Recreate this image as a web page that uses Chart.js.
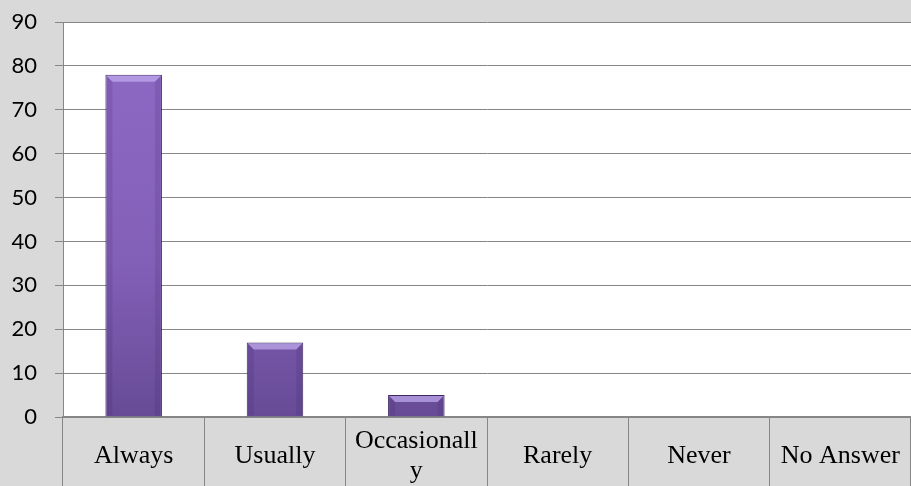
<!DOCTYPE html>
<html>
<head>
<meta charset="utf-8">
<script src="https://cdn.jsdelivr.net/npm/chart.js@4"></script>
<style>
  html, body { margin: 0; padding: 0; background: #d9d9d9; }
  #wrap { width: 911px; height: 486px; }
</style>
</head>
<body>
<div id="wrap"><canvas id="grafico"></canvas></div>
<script>
const categorias = ['Always', 'Usually', ['Occasionall', 'y'], 'Rarely', 'Never', 'No Answer'];
const valores = [78, 17, 5, 0, 0, 0];
const yMin = 0, yMax = 90, yPasso = 10;

// fundo cinza + area do grafico branca
const fundo = {
  id: 'fundo',
  beforeDraw(chart) {
    const { ctx, chartArea: a } = chart;
    ctx.save();
    ctx.fillStyle = '#d9d9d9';
    ctx.fillRect(0, 0, chart.width, chart.height);
    ctx.fillStyle = '#ffffff';
    ctx.fillRect(a.left, a.top, a.right - a.left, a.bottom - a.top);
    ctx.restore();
  }
};

// efeito chanfrado nas barras
const chanfro = {
  id: 'chanfro',
  afterDatasetsDraw(chart) {
    const { ctx } = chart;
    chart.getDatasetMeta(0).data.forEach(bar => {
      const h = bar.base - bar.y;
      if (h < 1) return;
      const l = bar.x - bar.width / 2, r = bar.x + bar.width / 2;
      const t = bar.y, b = bar.base;
      const c = Math.min(7, h / 2);
      ctx.save();
      ctx.fillStyle = 'rgba(195,172,240,0.7)';
      ctx.beginPath();
      ctx.moveTo(l + 1, t + 1); ctx.lineTo(r - 1, t + 1);
      ctx.lineTo(r - c, t + c); ctx.lineTo(l + c, t + c);
      ctx.closePath(); ctx.fill();
      ctx.fillStyle = 'rgba(40,20,70,0.12)';
      ctx.beginPath();
      ctx.moveTo(l + 1, t + 1); ctx.lineTo(l + c, t + c);
      ctx.lineTo(l + c, b - 1); ctx.lineTo(l + 1, b - 1);
      ctx.closePath(); ctx.fill();
      ctx.beginPath();
      ctx.moveTo(r - 1, t + 1); ctx.lineTo(r - c, t + c);
      ctx.lineTo(r - c, b - 1); ctx.lineTo(r - 1, b - 1);
      ctx.closePath(); ctx.fill();
      ctx.restore();
    });
  }
};

const ctx = document.getElementById('grafico');
new Chart(ctx, {
  type: 'bar',
  data: {
    labels: categorias,
    datasets: [{
      data: valores,
      backgroundColor: (c) => {
        const a = c.chart.chartArea;
        if (!a) return '#7d5ab3';
        const g = c.chart.ctx.createLinearGradient(0, a.top, 0, a.bottom);
        g.addColorStop(0, '#8e6ac6');
        g.addColorStop(0.6, '#8360b8');
        g.addColorStop(1, '#674b96');
        return g;
      },
      borderColor: '#3e2961',
      borderWidth: 1,
      barPercentage: 0.4,
      categoryPercentage: 1
    }]
  },
  options: {
    responsive: true,
    maintainAspectRatio: false,
    animation: false,
    layout: { padding: { top: 0, right: 0, left: 0, bottom: 0 } },
    plugins: { legend: { display: false }, tooltip: { enabled: false } },
    scales: {
      x: {
        grid: { drawOnChartArea: false, color: '#868686', tickLength: 69, offset: true },
        border: { color: '#868686', width: 2 },
        ticks: {
          color: '#000',
          font: { family: '"Liberation Serif", "Times New Roman", serif', size: 26, lineHeight: 1.15 },
          crossAlign: 'center',
          maxRotation: 0,
          autoSkip: false,
          padding: -45
        },
        afterFit(scale) { scale.height = 69; }
      },
      y: {
        min: yMin,
        max: yMax,
        grid: { color: '#868686', tickLength: 8 },
        border: { color: '#868686' },
        ticks: {
          stepSize: yPasso,
          color: '#000',
          font: { family: 'Lato, "Open Sans", sans-serif', size: 22, lineHeight: 1 },
          padding: 18
        },
        afterFit(scale) { scale.width = 63; scale.paddingTop = 22; }
      }
    }
  },
  plugins: [fundo, chanfro]
});
</script>
</body>
</html>
